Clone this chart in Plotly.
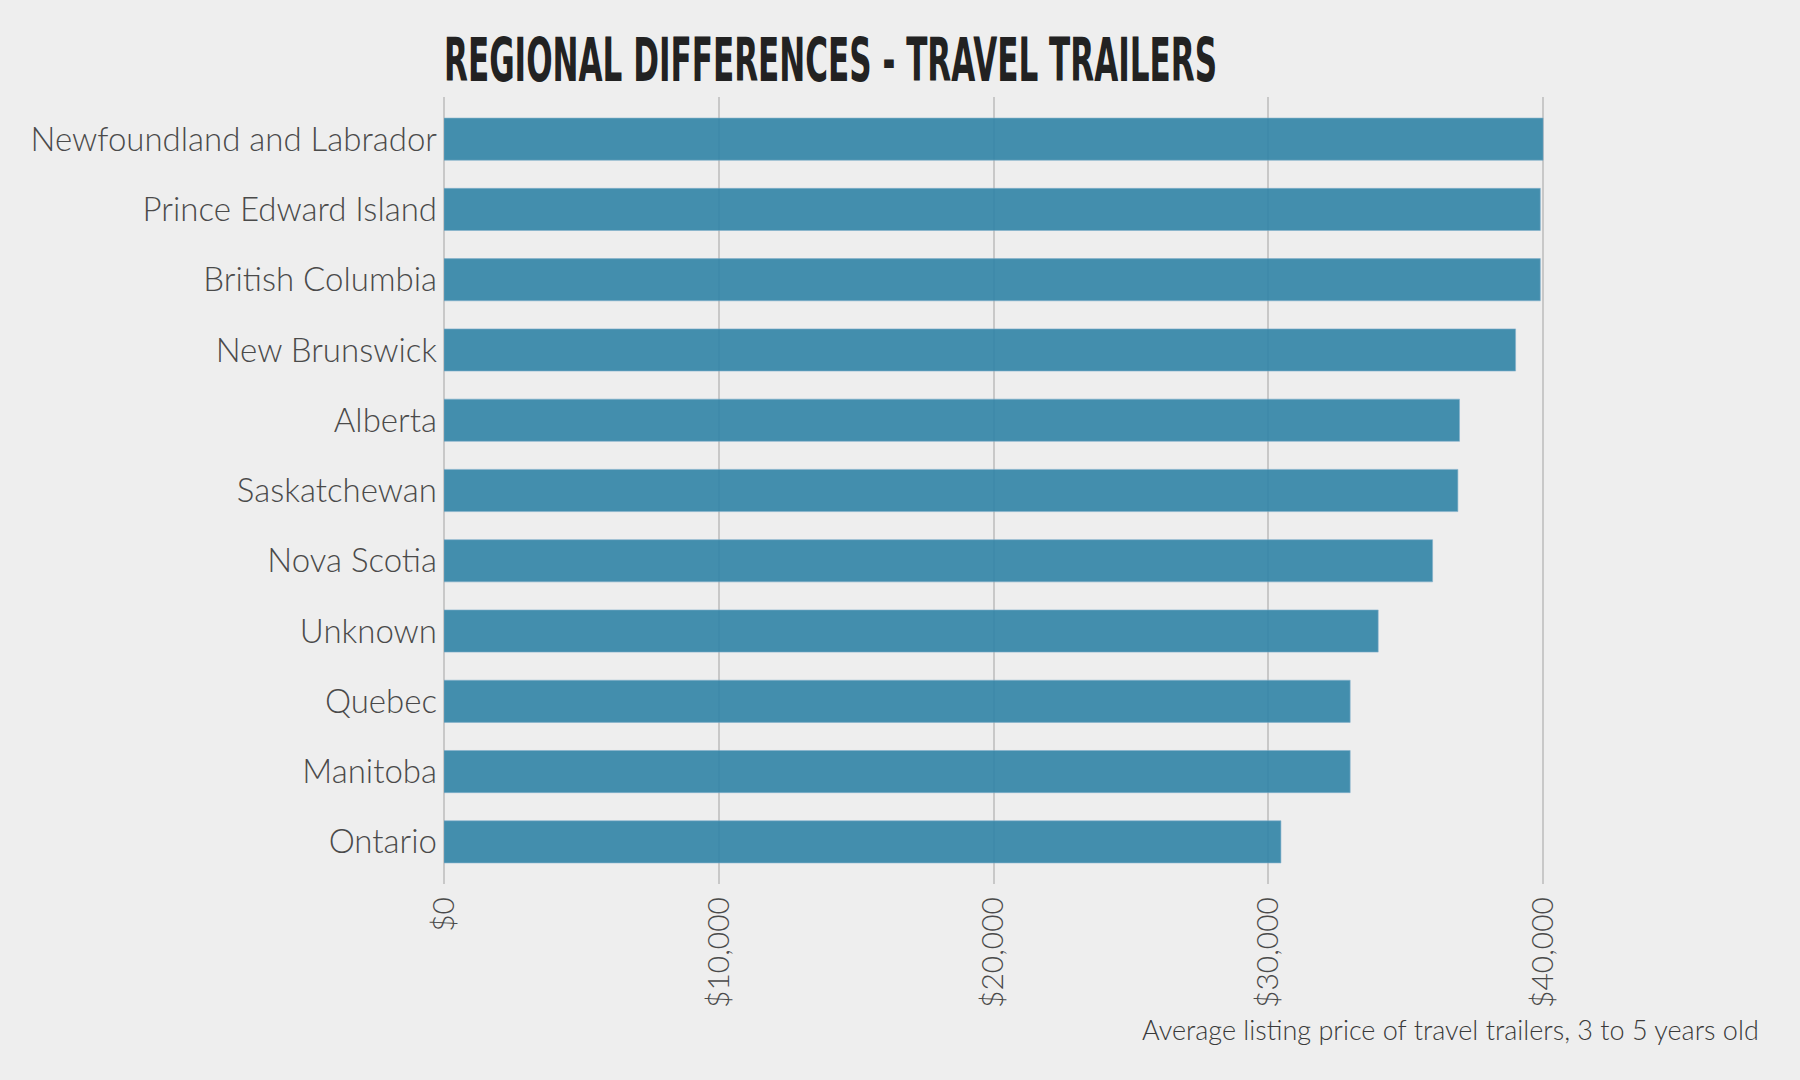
import plotly.graph_objects as go

# data
provinces = [
    "Newfoundland and Labrador", "Prince Edward Island", "British Columbia",
    "New Brunswick", "Alberta", "Saskatchewan", "Nova Scotia", "Unknown",
    "Quebec", "Manitoba", "Ontario",
]
avg_price = [40000, 39900, 39900, 39000, 36960, 36900, 35980, 34000, 32980, 32980, 30460]
x_ticks = [0, 10000, 20000, 30000, 40000]

title_text = "REGIONAL DIFFERENCES - TRAVEL TRAILERS"
caption_text = "Average listing price of travel trailers, 3 to 5 years old"

bg = "#eeeeee"
font_family = "Lato, 'Open Sans', sans-serif"
ylabel_font = dict(family=font_family, size=33, color="#4a4a4a", weight=300)
xlabel_font = dict(family=font_family, size=30, color="#4a4a4a", weight=300)

fig = go.Figure()
fig.add_trace(go.Bar(
    x=avg_price,
    y=provinces,
    orientation="h",
    width=0.6,
    marker=dict(color="rgb(49,132,167)", opacity=0.9,
                line=dict(width=1, color="rgba(120,170,200,0.6)")),
    hoverinfo="x+y",
))

# plot area placed in pixels like the reference
W, H = 1800, 1080
left, right, top, bottom = 444, 1598, 97, 884

fig.update_layout(
    width=W, height=H,
    margin=dict(l=left, r=W - right, t=top, b=H - bottom, pad=0),
    paper_bgcolor=bg,
    plot_bgcolor=bg,
    showlegend=False,
    title=dict(
        text=title_text,
        font=dict(family="'DejaVu Sans', sans-serif", size=60, color="#222222", weight="bold"),
        xref="paper", x=0, xanchor="left",
        yref="container", y=1 - 60 / H, yanchor="middle",
    ),
    xaxis=dict(
        range=[0, 42000],
        tickmode="array",
        tickvals=x_ticks,
        ticktext=[f"${v:,}" for v in x_ticks],
        tickangle=-90,
        tickfont=xlabel_font,
        showgrid=True,
        gridcolor="#c8c8c8",
        gridwidth=2,
        zeroline=True,
        zerolinecolor="#c8c8c8",
        zerolinewidth=2,
        showline=False,
        ticks="",
        ticklabelstandoff=6,
    ),
    yaxis=dict(
        categoryorder="array",
        categoryarray=provinces,
        range=[len(provinces) - 0.4, -0.6],
        tickfont=ylabel_font,
        showgrid=False,
        zeroline=False,
        showline=False,
        ticks="",
        ticklabelstandoff=6,
    ),
    annotations=[dict(
        text=caption_text,
        xref="paper", yref="paper",
        x=(1761 - left) / (right - left), xanchor="right",
        y=(bottom - 1029) / (bottom - top), yanchor="middle",
        showarrow=False,
        font=dict(family=font_family, size=27, color="#3a3a3a", weight=300),
    )],
)

# no page margin, and squeeze the title into a condensed look like the original
post_js = """
document.body.style.margin = '0';
var gd = document.getElementById('{plot_id}');
var t = gd ? gd.querySelector('.gtitle') : null;
if (t) { t.setAttribute('textLength', '773'); t.setAttribute('lengthAdjust', 'spacingAndGlyphs'); }
"""

fig.write_html("out.html", post_script=post_js, config={"displayModeBar": False})
